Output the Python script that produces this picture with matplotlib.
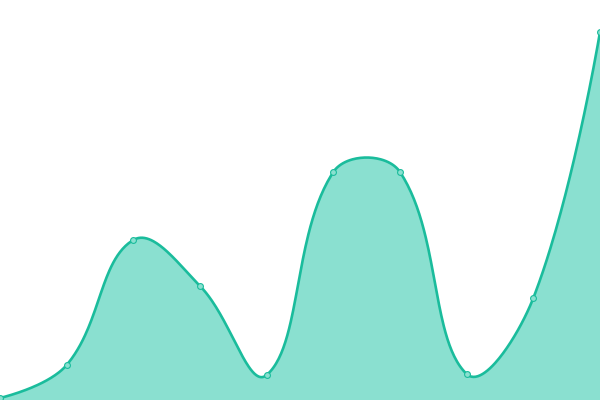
import numpy as np
import matplotlib
matplotlib.use("Agg")
import matplotlib.pyplot as plt

# values (y axis 0..400, no axes drawn)
categories = list(range(10))
values = [2, 35, 160, 114, 25, 228, 228, 26, 102, 368]

LINE_C = "#1abc9c"
FILL_C = "#8ae0d0"
SMOOTH = 0.4
X_PX = 600 / (len(categories) - 1)   # pixels per category step
Y_PX = 1.0                           # pixels per value unit


def smooth_curve(xs, ys, smooth=SMOOTH, n=60):
    # echarts-like bezier smoothing, computed in pixel space
    px = np.asarray(xs, float) * X_PX
    py = np.asarray(ys, float) * Y_PX
    m = len(px)
    cp_prev = np.zeros((m, 2))
    cp_next = np.zeros((m, 2))
    for i in range(m):
        p = np.array([px[i], py[i]])
        if i == 0 or i == m - 1:
            cp_prev[i] = p
            cp_next[i] = p
            continue
        prev = np.array([px[i - 1], py[i - 1]])
        nxt = np.array([px[i + 1], py[i + 1]])
        v = nxt - prev
        l0 = np.hypot(*(p - prev))
        l1 = np.hypot(*(nxt - p))
        r = l1 / (l0 + l1)
        cp_prev[i] = p - v * smooth * (1 - r)
        cp_next[i] = p + v * smooth * r
    lo_y, hi_y = py.min(), py.max()
    cp_prev[:, 1] = np.clip(cp_prev[:, 1], lo_y, hi_y)
    cp_next[:, 1] = np.clip(cp_next[:, 1], lo_y, hi_y)
    t = np.linspace(0, 1, n)[:, None]
    out = []
    for i in range(m - 1):
        p0 = np.array([px[i], py[i]])
        p3 = np.array([px[i + 1], py[i + 1]])
        c1, c2 = cp_next[i], cp_prev[i + 1]
        seg = ((1 - t) ** 3) * p0 + 3 * ((1 - t) ** 2) * t * c1 \
            + 3 * (1 - t) * t ** 2 * c2 + t ** 3 * p3
        out.append(seg if i == 0 else seg[1:])
    pts = np.vstack(out)
    return pts[:, 0] / X_PX, pts[:, 1] / Y_PX


cx, cy = smooth_curve(categories, values)

fig = plt.figure(figsize=(6, 4), dpi=100)
ax = fig.add_axes([0, 0, 1, 1])
ax.fill_between(cx, cy, 0, color=FILL_C, linewidth=0, zorder=1)
ax.plot(cx, cy, color=LINE_C, linewidth=1.9, zorder=2, solid_capstyle="round")
ax.plot(categories, values, linestyle="none", marker="o", markersize=4.2,
        markerfacecolor=FILL_C, markeredgecolor=LINE_C, markeredgewidth=0.8,
        zorder=3, clip_on=False)
ax.set_xlim(0, len(categories) - 1)
ax.set_ylim(0, 400)
ax.axis("off")

plt.savefig("out.png", dpi=100)
